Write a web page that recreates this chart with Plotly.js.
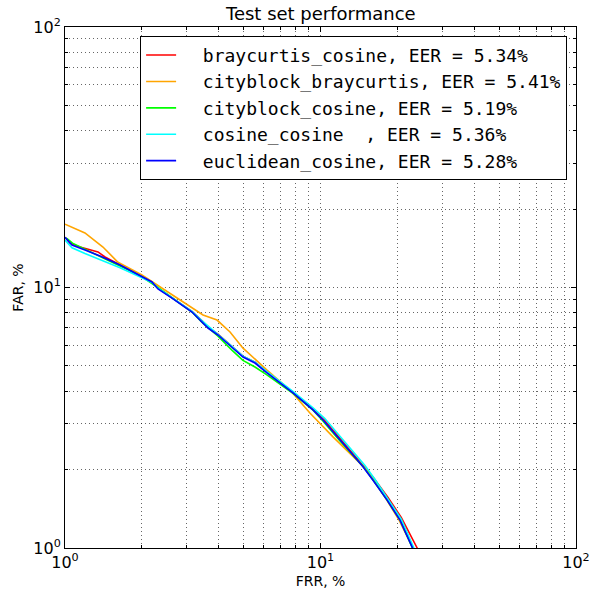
<!DOCTYPE html>
<html>
<head>
<meta charset="utf-8">
<script src="https://cdn.plot.ly/plotly-3.0.1.min.js"></script>
<style>html,body{margin:0;padding:0;background:#fff;}#chart{width:593px;height:589px;}</style>
</head>
<body>
<div id="chart"></div>
<script>
// Series names and EER values
const seriesNames = ["braycurtis_cosine", "cityblock_braycurtis", "cityblock_cosine", "cosine_cosine  ", "euclidean_cosine"];
const eerValues = [5.34, 5.41, 5.19, 5.36, 5.28];
const seriesColors = ["#ff0000", "#ffa500", "#00ff00", "#00ffff", "#0000ff"];

// DET curves: FRR (%) and FAR (%)
const frrBraycurtisCosine = [1.00, 1.046, 1.145, 1.287, 1.346, 1.434, 1.64, 2.00, 2.19, 2.31, 2.62, 3.14, 3.44, 3.63, 3.97, 4.50, 4.97, 5.54, 6.17, 7.80, 9.35, 10.3, 12.0, 14.8, 16.2, 18.4, 20.7, 23.9, 24.8];
const farBraycurtisCosine = [15.6, 14.8, 14.3, 13.93, 13.7, 13.1, 12.2, 11.0, 10.5, 9.95, 9.15, 8.10, 7.45, 7.05, 6.62, 5.95, 5.45, 5.17, 4.73, 3.97, 3.42, 3.12, 2.62, 2.07, 1.85, 1.56, 1.31, 1.00, 0.93];

const frrCityblockBraycurtis = [1.00, 1.197, 1.408, 1.612, 2.00, 2.463, 2.897, 3.469, 3.935, 4.425, 4.974, 5.54, 6.174, 7.595, 9.09, 11.19, 15.21, 18.0, 20.3, 23.0, 23.9];
const farCityblockBraycurtis = [17.5, 16.2, 14.3, 12.5, 11.17, 9.78, 8.80, 7.84, 7.50, 6.75, 5.85, 5.30, 4.82, 4.04, 3.30, 2.67, 1.99, 1.55, 1.28, 1.00, 0.93];

const frrCityblockCosine = [1.00, 1.02, 1.07, 1.29, 1.50, 1.80, 2.00, 2.31, 2.62, 3.14, 3.44, 3.97, 4.50, 4.75, 4.97, 5.54, 6.17, 7.80, 9.35, 10.2, 11.9, 14.7, 16.1, 18.2, 20.5, 22.9, 23.8];
const farCityblockCosine = [15.5, 15.4, 14.8, 13.5, 12.6, 11.6, 11.0, 10.0, 9.15, 8.05, 7.35, 6.50, 5.75, 5.45, 5.25, 4.95, 4.62, 3.92, 3.38, 3.08, 2.58, 2.05, 1.82, 1.53, 1.28, 1.00, 0.93];

const frrCosineCosine = [1.00, 1.065, 1.197, 1.371, 1.642, 2.00, 2.19, 2.31, 2.62, 3.14, 3.44, 3.97, 4.50, 4.97, 5.54, 6.17, 7.80, 9.35, 10.4, 12.1, 14.9, 16.3, 18.4, 20.7, 23.2, 24.1];
const farCosineCosine = [15.2, 14.2, 13.5, 12.8, 11.9, 10.9, 10.45, 9.95, 9.15, 8.10, 7.45, 6.62, 5.95, 5.45, 5.17, 4.75, 3.99, 3.45, 3.14, 2.64, 2.08, 1.84, 1.54, 1.29, 1.00, 0.93];

const frrEuclideanCosine = [1.00, 1.065, 1.197, 1.371, 1.642, 2.001, 2.190, 2.312, 2.623, 3.141, 3.438, 3.628, 3.971, 4.505, 4.974, 5.541, 6.174, 7.805, 9.346, 10.23, 11.92, 14.67, 16.05, 18.20, 20.47, 22.81, 23.7];
const farEuclideanCosine = [15.6, 14.56, 13.93, 13.21, 12.20, 10.97, 10.50, 9.87, 9.11, 8.05, 7.37, 6.99, 6.57, 5.91, 5.41, 5.13, 4.70, 3.94, 3.39, 3.10, 2.60, 2.05, 1.82, 1.53, 1.28, 1.00, 0.93];

const frrSeries = [frrBraycurtisCosine, frrCityblockBraycurtis, frrCityblockCosine, frrCosineCosine, frrEuclideanCosine];
const farSeries = [farBraycurtisCosine, farCityblockBraycurtis, farCityblockCosine, farCosineCosine, farEuclideanCosine];

const majorTickVals = [1, 10, 100];
const majorTickText = ["10<sup>0</sup>", "10<sup>1</sup>", "10<sup>2</sup>"];
const minorTickVals = [2, 3, 4, 5, 6, 7, 8, 9, 20, 30, 40, 50, 60, 70, 80, 90];

const traces = seriesNames.map((name, i) => ({
  x: frrSeries[i],
  y: farSeries[i],
  type: "scatter",
  mode: "lines",
  name: "\u00a0\u00a0" + name + ", EER = " + eerValues[i].toFixed(2) + "%",
  line: {color: seriesColors[i], width: 1.6}
}));

const gridCol = "rgba(0,0,0,0.6)";
const gridDash = "1.3px,2.7px";

function axis(titleText) {
  return {
    type: "log",
    range: [0, 2],
    title: {text: titleText, font: {family: "DejaVu Sans", size: 14, color: "#000"}, standoff: 6},
    tickmode: "array",
    tickvals: majorTickVals,
    ticktext: majorTickText,
    tickfont: {family: "DejaVu Sans", size: 16, color: "#000"},
    ticks: "inside",
    ticklen: 5,
    tickcolor: "#000",
    showline: true,
    linecolor: "#000",
    linewidth: 1,
    mirror: "ticks",
    showgrid: true,
    gridcolor: gridCol,
    gridwidth: 1,
    griddash: gridDash,
    zeroline: false,
    minor: {
      tickmode: "array",
      tickvals: minorTickVals,
      ticks: "inside",
      ticklen: 3,
      tickcolor: "#000",
      showgrid: true,
      gridcolor: gridCol,
      gridwidth: 1,
      griddash: gridDash
    }
  };
}

const layout = {
  width: 593,
  height: 589,
  margin: {l: 65, r: 17, t: 27, b: 41},
  paper_bgcolor: "#fff",
  plot_bgcolor: "#fff",
  title: {text: "Test set performance", font: {family: "DejaVu Sans", size: 18, color: "#000"}, x: 0.541, xanchor: "center", y: 0.988, yanchor: "top"},
  xaxis: axis("FRR, %"),
  yaxis: axis("FAR, %"),
  showlegend: true,
  legend: {
    x: 0.147, y: 0.983, xanchor: "left", yanchor: "top",
    bgcolor: "#fff",
    bordercolor: "#000",
    borderwidth: 1,
    font: {family: "DejaVu Sans Mono", size: 18, color: "#000"},
    itemwidth: 30
  }
};

Plotly.newPlot("chart", traces, layout, {displayModeBar: false, staticPlot: true});
</script>
</body>
</html>
